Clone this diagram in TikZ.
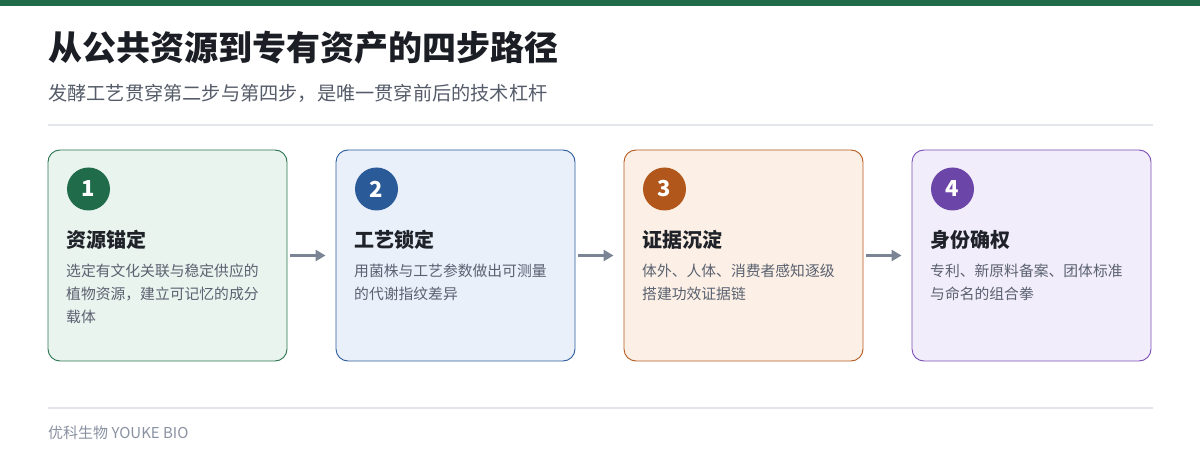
\documentclass[tikz,border=0pt]{standalone}
\usepackage{fontspec}
\setmainfont{Noto Sans CJK SC}
\usetikzlibrary{arrows.meta, positioning}
\definecolor{topgreen}{HTML}{1F6B4A}
\definecolor{titleink}{HTML}{1B1E24}
\definecolor{subink}{HTML}{555C69}
\definecolor{headink}{HTML}{1F2329}
\definecolor{textink}{HTML}{5A6170}
\definecolor{footink}{HTML}{8991A1}
\definecolor{rulegray}{HTML}{E3E7EC}
\definecolor{arrowgray}{HTML}{7B8494}
% step colours
\definecolor{greenfill}{HTML}{EAF4EE}
\definecolor{greenline}{HTML}{2B7451}
\definecolor{greendot}{HTML}{1F6B4A}
\definecolor{bluefill}{HTML}{E9F0FA}
\definecolor{blueline}{HTML}{2B5C9C}
\definecolor{bluedot}{HTML}{2A5A98}
\definecolor{orangefill}{HTML}{FCF0E6}
\definecolor{orangeline}{HTML}{B55A1F}
\definecolor{orangedot}{HTML}{B2571C}
\definecolor{purplefill}{HTML}{F2EDFA}
\definecolor{purpleline}{HTML}{7A4DB5}
\definecolor{purpledot}{HTML}{6C45A8}

\begin{document}
\begin{tikzpicture}[
  x=1pt, y=-1pt,
  card/.style={draw, rounded corners=12pt, line width=0.9pt, minimum width=239pt, minimum height=211pt, inner sep=0pt},
  numdot/.style={circle, minimum size=43pt, inner sep=0pt, text=white, font=\fontsize{22}{22}\selectfont\bfseries},
  stephead/.style={anchor=west, inner sep=0pt, text=headink, font=\fontsize{20}{20}\selectfont\bfseries},
  steptext/.style={anchor=north west, inner sep=0pt, align=left, text=textink, font=\fontsize{14.8}{22.8}\selectfont},
  flowarrow/.style={-{Triangle[length=10pt,width=11pt]}, draw=arrowgray, line width=2.6pt},
  sepline/.style={draw=rulegray, line width=1.5pt},
]
  \useasboundingbox (0,0) rectangle (1200,470);
  \fill[topgreen] (0,0) rectangle (1200,6);

  % Title block
  \node[anchor=west, inner sep=0pt, text=titleink, font=\fontsize{34}{34}\selectfont\bfseries] (title) at (48,48) {从公共资源到专有资产的四步路径};
  \node[anchor=west, inner sep=0pt, text=subink, font=\fontsize{19.2}{19.2}\selectfont] (subtitle) at (48,93) {发酵工艺贯穿第二步与第四步，是唯一贯穿前后的技术杠杆};
  \draw[sepline] (48,125) -- (1153,125);

  % Step 1
  \node[card, draw=greenline, fill=greenfill] (card1) at (167.5,255.5) {};
  \node[numdot, fill=greendot] (num1) at (88.5,189) {1};
  \node[stephead] (head1) at (66,240) {资源锚定};
  \node[steptext] (txt1) at (66,264) {选定有文化关联与稳定供应的\\植物资源，建立可记忆的成分\\载体};

  % Step 2
  \node[card, draw=blueline, fill=bluefill] (card2) at (455.5,255.5) {};
  \node[numdot, fill=bluedot] (num2) at (376.5,189) {2};
  \node[stephead] (head2) at (354,240) {工艺锁定};
  \node[steptext] (txt2) at (354,264) {用菌株与工艺参数做出可测量\\的代谢指纹差异};

  % Step 3
  \node[card, draw=orangeline, fill=orangefill] (card3) at (743.5,255.5) {};
  \node[numdot, fill=orangedot] (num3) at (664.5,189) {3};
  \node[stephead] (head3) at (642,240) {证据沉淀};
  \node[steptext] (txt3) at (642,264) {体外、人体、消费者感知逐级\\搭建功效证据链};

  % Step 4
  \node[card, draw=purpleline, fill=purplefill] (card4) at (1031.5,255.5) {};
  \node[numdot, fill=purpledot] (num4) at (952.5,189) {4};
  \node[stephead] (head4) at (930,240) {身份确权};
  \node[steptext] (txt4) at (930,264) {专利、新原料备案、团体标准\\与命名的组合拳};

  % Arrows between steps
  \draw[flowarrow] ([xshift=3pt]card1.east) -- ([xshift=-10pt]card2.west);
  \draw[flowarrow] ([xshift=3pt]card2.east) -- ([xshift=-10pt]card3.west);
  \draw[flowarrow] ([xshift=3pt]card3.east) -- ([xshift=-10pt]card4.west);

  % Footer
  \draw[sepline] (48,408) -- (1153,408);
  \node[anchor=west, inner sep=0pt, text=footink, font=\fontsize{15}{15}\selectfont] (footer) at (48,433) {优科生物 YOUKE BIO};
\end{tikzpicture}
\end{document}
